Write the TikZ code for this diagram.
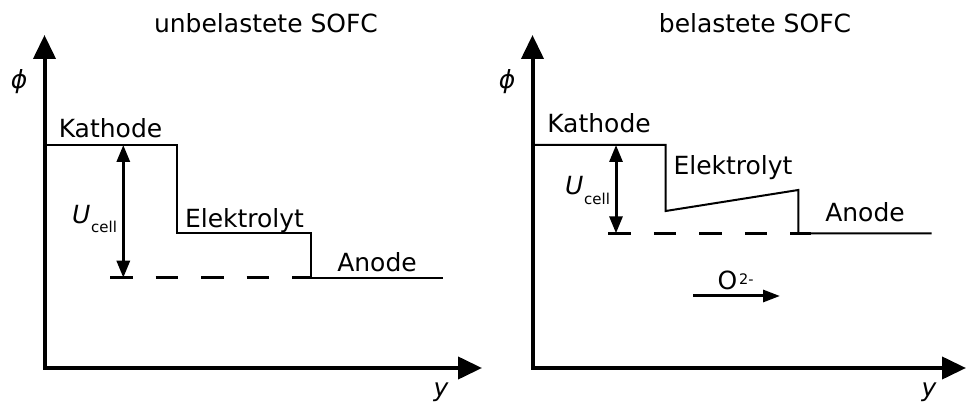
\documentclass[tikz,border=0pt]{standalone}
\usepackage{fontspec}
\setmainfont{DejaVu Sans}
\usetikzlibrary{arrows.meta}
\begin{document}
\begin{tikzpicture}[x=1pt,y=-1pt,
  lbl/.style={inner sep=0pt,anchor=base,font=\fontsize{25}{30}\selectfont},
  sublbl/.style={inner sep=0pt,anchor=base west,font=\fontsize{14}{16}\selectfont},
  axisline/.style={line width=4pt,{Triangle[length=24pt,width=22pt]}-{Triangle[length=24pt,width=22pt]}},
  level/.style={line width=2pt,line join=miter},
  refline/.style={line width=3.4pt,dash pattern=on 22.5pt off 23pt},
  dimarrow/.style={line width=3pt,{Triangle[length=17pt,width=13pt]}-{Triangle[length=17pt,width=13pt]}},
  flowarrow/.style={line width=3pt,-{Triangle[length=17pt,width=12pt]}}]
\useasboundingbox (0,0) rectangle (967,403);
% ---------------- left panel ----------------
\coordinate (LYtop) at (44.5,35);
\coordinate (LXend) at (482,368);
\draw[axisline] (LYtop) |- (LXend);
\node[lbl] (Ltitle) at (266,33) {unbelastete SOFC};
\node[lbl,font=\fontsize{25}{30}\selectfont\itshape] (Lphi) at (19,89) {ϕ};
\node[lbl,font=\fontsize{25}{30}\selectfont\itshape] (Ly) at (441,396) {y};
\coordinate (LK0) at (46,145);
\coordinate (LK1) at (176.7,145);
\coordinate (LE0) at (176.7,233.3);
\coordinate (LE1) at (310.7,233.3);
\coordinate (LA0) at (310.7,277.7);
\coordinate (LA1) at (443.3,277.7);
\draw[level] (LK0) -- (LK1) -- (LE0) -- (LE1) -- (LA0) -- (LA1);
\coordinate (LD0) at (110,277.7);
\draw[refline] (LD0) -- (LA0);
\coordinate (LU0) at (123.3,145);
\coordinate (LU1) at (123.3,277.7);
\draw[dimarrow] (LU0) -- (LU1);
\node[lbl] (LKath) at (110.5,138) {Kathode};
\node[lbl] (LElek) at (244.5,228) {Elektrolyt};
\node[lbl] (LAnode) at (377,272) {Anode};
\node[lbl,anchor=base east,font=\fontsize{25}{30}\selectfont\itshape] (LUsym) at (90.5,224) {U};
\node[sublbl,font=\fontsize{15}{17}\selectfont] (LUsub) at (91,233) {cell};
% ---------------- right panel ----------------
\coordinate (RYtop) at (532.5,35);
\coordinate (RXend) at (966,368);
\draw[axisline] (RYtop) |- (RXend);
\node[lbl] (Rtitle) at (755,33) {belastete SOFC};
\node[lbl,font=\fontsize{25}{30}\selectfont\itshape] (Rphi) at (507,89) {ϕ};
\node[lbl,font=\fontsize{25}{30}\selectfont\itshape] (Ry) at (929,396) {y};
\coordinate (RK0) at (534,145);
\coordinate (RK1) at (665.7,145);
\coordinate (RE0) at (665.7,211);
\coordinate (RE1) at (798.3,190);
\coordinate (RA0) at (798.3,233.3);
\coordinate (RA1) at (931.7,233.3);
\draw[level] (RK0) -- (RK1) -- (RE0) -- (RE1) -- (RA0) -- (RA1);
\coordinate (RD0) at (608.3,233.3);
\coordinate (RD1) at (811,233.3);
\draw[refline] (RD0) -- (RD1);
\coordinate (RU0) at (616,145);
\coordinate (RU1) at (616,233.3);
\draw[dimarrow] (RU0) -- (RU1);
\node[lbl] (RKath) at (599,133) {Kathode};
\node[lbl] (RElek) at (733,175) {Elektrolyt};
\node[lbl] (RAnode) at (865,222) {Anode};
\node[lbl,anchor=base east,font=\fontsize{25}{30}\selectfont\itshape] (RUsym) at (583.5,195) {U};
\node[sublbl,font=\fontsize{15}{17}\selectfont] (RUsub) at (584,205) {cell};
\coordinate (RO0) at (693,296);
\coordinate (RO1) at (780,296);
\draw[flowarrow] (RO0) -- (RO1);
\node[lbl,anchor=base west] (ROion) at (717.5,290) {O};
\node[sublbl,font=\fontsize{14.5}{16}\selectfont] (ROsup) at (739,285) {2-};
\end{tikzpicture}
\end{document}
